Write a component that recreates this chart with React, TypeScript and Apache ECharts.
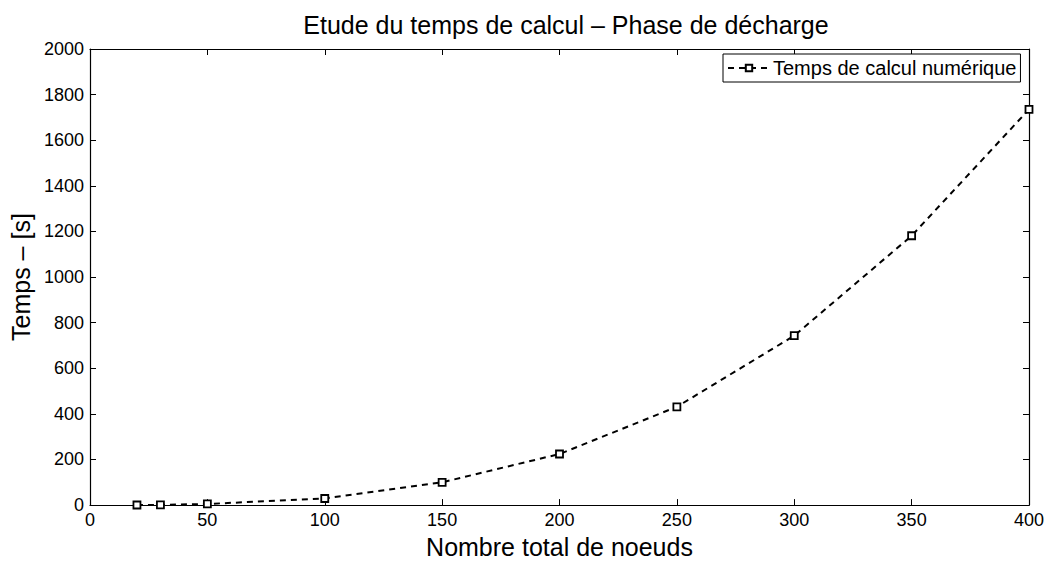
import React, { useEffect, useRef } from "react";
import * as echarts from "echarts";

const nodes = [20, 30, 50, 100, 150, 200, 250, 300, 350, 400];
const times = [0.5, 1, 5, 29, 100, 224, 431, 743, 1181, 1735];
const seriesName = "Temps de calcul numérique";
const titleText = "Etude du temps de calcul – Phase de décharge";
const xName = "Nombre total de noeuds";
const yName = "Temps – [s]";

const FONT = "'Liberation Sans', Arial, Helvetica, sans-serif";

export default function App() {
  const ref = useRef<HTMLDivElement>(null);
  useEffect(() => {
    if (!ref.current) return;
    const chart = echarts.init(ref.current, null, { renderer: "svg" });
    const axisCommon = {
      axisLine: { show: true, onZero: false, lineStyle: { color: "#000", width: 1.2 } },
      axisTick: { show: true, inside: true, length: 6, lineStyle: { color: "#000" } },
      splitLine: { show: false },
    };
    const fmt = (v: number) => String(v);
    chart.setOption({
      animation: false,
      backgroundColor: "#fff",
      textStyle: { fontFamily: FONT },
      title: {
        text: titleText,
        left: 561,
        textAlign: "center",
        top: 7,
        textStyle: { fontFamily: FONT, fontSize: 25, fontWeight: "normal", color: "#000" },
      },
      legend: {
        left: 723,
        top: 54,
        orient: "horizontal",
        backgroundColor: "#fff",
        borderColor: "#000",
        borderWidth: 1,
        borderRadius: 0,
        padding: [4, 4, 4, 4],
        itemWidth: 42,
        itemHeight: 8,
        itemGap: 0,
        textStyle: { fontFamily: FONT, fontSize: 20, color: "#000", padding: [0, 0, 0, -2] },
        data: [seriesName],
      },
      grid: { left: 90, right: 19, top: 49, bottom: 52, containLabel: false },
      xAxis: [
        {
          type: "value",
          min: 0,
          max: 400,
          interval: 50,
          position: "bottom",
          name: xName,
          nameLocation: "middle",
          nameGap: 26,
          nameTextStyle: { fontFamily: FONT, fontSize: 25, color: "#000" },
          axisLabel: { fontFamily: FONT, fontSize: 18, color: "#000", margin: 6, formatter: fmt },
          ...axisCommon,
        },
        {
          type: "value",
          min: 0,
          max: 400,
          interval: 50,
          position: "top",
          axisLabel: { show: false },
          ...axisCommon,
        },
      ],
      yAxis: [
        {
          type: "value",
          min: 0,
          max: 2000,
          interval: 200,
          position: "left",
          name: yName,
          nameLocation: "middle",
          nameGap: 56,
          nameTextStyle: { fontFamily: FONT, fontSize: 25, color: "#000" },
          axisLabel: { fontFamily: FONT, fontSize: 18, color: "#000", margin: 6, formatter: fmt },
          ...axisCommon,
        },
        {
          type: "value",
          min: 0,
          max: 2000,
          interval: 200,
          position: "right",
          axisLabel: { show: false },
          ...axisCommon,
        },
      ],
      series: [
        {
          name: seriesName,
          type: "line",
          data: nodes.map((n, i) => [n, times[i]]),
          symbol: "rect",
          symbolSize: 7,
          showAllSymbol: true,
          lineStyle: { color: "#000", width: 2, type: [6, 5] },
          itemStyle: { color: "#fff", borderColor: "#000", borderWidth: 1.8 },
          emphasis: { disabled: true },
        },
      ],
    });
    return () => chart.dispose();
  }, []);
  return (
    <div
      ref={ref}
      style={{ position: "fixed", left: 0, top: 0, width: 1048, height: 564 }}
    />
  );
}
